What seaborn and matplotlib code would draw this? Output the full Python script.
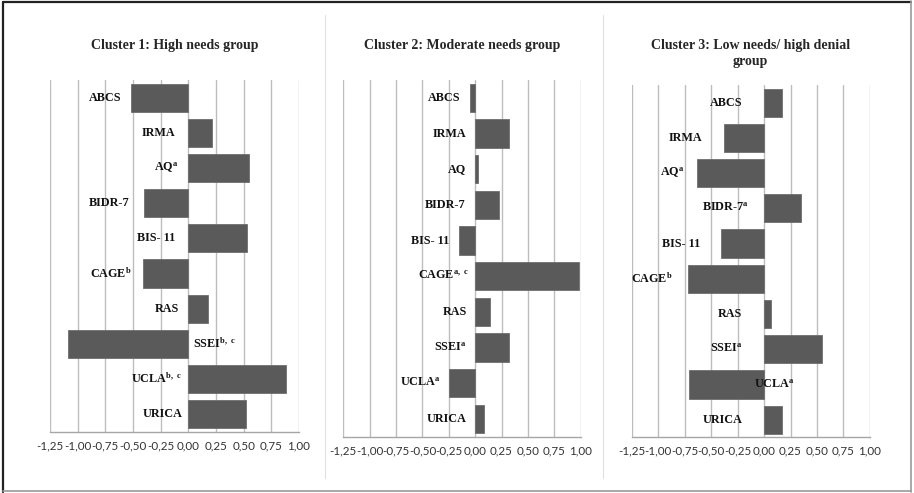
#!/usr/bin/env python3

# Import libraries
import numpy as np
import matplotlib
matplotlib.use("Agg")
import matplotlib.pyplot as plt
from matplotlib.lines import Line2D
import seaborn as sns

# Data (z-scores per cluster)
measures = ["ABCS", "IRMA", "AQ", "BIDR-7", "BIS- 11", "CAGE", "RAS", "SSEI", "UCLA", "URICA"]

titles = ["Cluster 1: High needs group",
          "Cluster 2: Moderate needs group",
          "Cluster 3: Low needs/ high denial\ngroup"]

labels_c1 = ["ABCS", "IRMA", "AQ$^{a}$", "BIDR-7", "BIS- 11", "CAGE$^{b}$", "RAS",
             "SSEI$^{b,\\ c}$", "UCLA$^{b,\\ c}$", "URICA"]
labels_c2 = ["ABCS", "IRMA", "AQ", "BIDR-7", "BIS- 11", "CAGE$^{a,\\ c}$", "RAS",
             "SSEI$^{a}$", "UCLA$^{a}$", "URICA"]
labels_c3 = ["ABCS", "IRMA", "AQ$^{a}$", "BIDR-7$^{a}$", "BIS- 11", "CAGE$^{b}$", "RAS",
             "SSEI$^{a}$", "UCLA$^{a}$", "URICA"]

values_c1 = [-0.52, 0.21, 0.545, -0.40, 0.53, -0.41, 0.18, -1.09, 0.88, 0.52]
values_c2 = [-0.05, 0.32, 0.03, 0.23, -0.155, 0.985, 0.145, 0.325, -0.25, 0.088]
values_c3 = [0.17, -0.38, -0.63, 0.35, -0.41, -0.715, 0.063, 0.55, -0.705, 0.17]

# where each label ends (right edge, in x data units)
label_x_c1 = [-0.605, -0.115, -0.087, -0.53, -0.115, -0.515, -0.08, 0.43, -0.065, -0.055]
label_x_c2 = [-0.14, -0.08, -0.09, -0.09, -0.245, -0.06, -0.08, -0.08, -0.33, -0.085]
label_x_c3 = [-0.20, -0.585, -0.755, -0.15, -0.60, -0.86, -0.21, -0.20, 0.29, -0.20]

ticks = np.arange(-1.25, 1.001, 0.25)
tick_labels = [f"{t:.2f}".replace(".", ",") for t in ticks]

# Style
sns.set_style("white")
plt.rcParams["font.family"] = ["Liberation Serif", "DejaVu Serif"]
plt.rcParams["mathtext.fontset"] = "custom"
plt.rcParams["mathtext.rm"] = "Liberation Serif:bold"
plt.rcParams["mathtext.it"] = "Liberation Serif:bold"
plt.rcParams["mathtext.bf"] = "Liberation Serif:bold"

fig = plt.figure(figsize=(9.14, 4.93), dpi=100)

# axes boxes [left, bottom, width, height]
boxes = [[0.0547, 0.1243, 0.2724, 0.7134],
         [0.3756, 0.1142, 0.2597, 0.7235],
         [0.6911, 0.1130, 0.2607, 0.7146]]

panels = [(values_c1, labels_c1, label_x_c1),
          (values_c2, labels_c2, label_x_c2),
          (values_c3, labels_c3, label_x_c3)]

bar_color = "#5a5a5a"

for i, (vals, labs, lx) in enumerate(panels):
    ax = fig.add_axes(boxes[i])
    sns.barplot(x=vals, y=measures, orient="h", color=bar_color, saturation=1,
                width=0.8, edgecolor="#6e6e6e", linewidth=0.6, ax=ax)
    ax.set_xlim(-1.25, 1.0)
    ax.set_ylim(9.5, -0.5)
    ax.set_xticks(ticks)
    ax.set_xticklabels(tick_labels, fontfamily="Lato", fontsize=8.4, color="#333333")
    ax.tick_params(axis="x", length=0, pad=6)
    ax.set_yticks([])
    ax.set_xlabel("")
    ax.set_ylabel("")
    ax.grid(axis="x", color="#bdbdbd", linewidth=1)
    ax.set_axisbelow(True)
    for s in ["left", "top", "right"]:
        ax.spines[s].set_visible(False)
    ax.spines["bottom"].set_color("#a6a6a6")
    ax.spines["bottom"].set_linewidth(1)

    # category labels next to bars
    for j, lab in enumerate(labs):
        ax.text(lx[j], j, lab, ha="right", va="center", fontsize=8.7,
                fontweight="bold", color="#111111")

    # panel title
    xc = boxes[i][0] + boxes[i][2] / 2
    if "\n" in titles[i]:
        fig.text(xc, 1 - 53.5 / 493, titles[i], ha="center", va="center",
                 fontsize=10, fontweight="bold", linespacing=1.2)
    else:
        fig.text(xc, 1 - 45 / 493, titles[i], ha="center", va="center",
                 fontsize=10, fontweight="bold")

# outer frame and panel separators
frame = [((0.003, 0.003), (0.003, 0.996), "#222222", 1.6),
         ((0.003, 0.997), (0.996, 0.996), "#222222", 1.6),
         ((0.997, 0.997), (0.997, 0.003), "#9a9a9a", 1.2),
         ((0.003, 0.997), (0.004, 0.004), "#9a9a9a", 1.2)]
for (x0, x1), (y0, y1), c, lw in frame:
    fig.add_artist(Line2D([x0, x1], [y0, y1], color=c, linewidth=lw,
                          transform=fig.transFigure))
for xs in [325 / 914, 603 / 914]:
    fig.add_artist(Line2D([xs, xs], [0.03, 0.97], color="#e0e0e0", linewidth=0.8,
                          transform=fig.transFigure))

# Save figure
plt.savefig("out.png", dpi=100)
